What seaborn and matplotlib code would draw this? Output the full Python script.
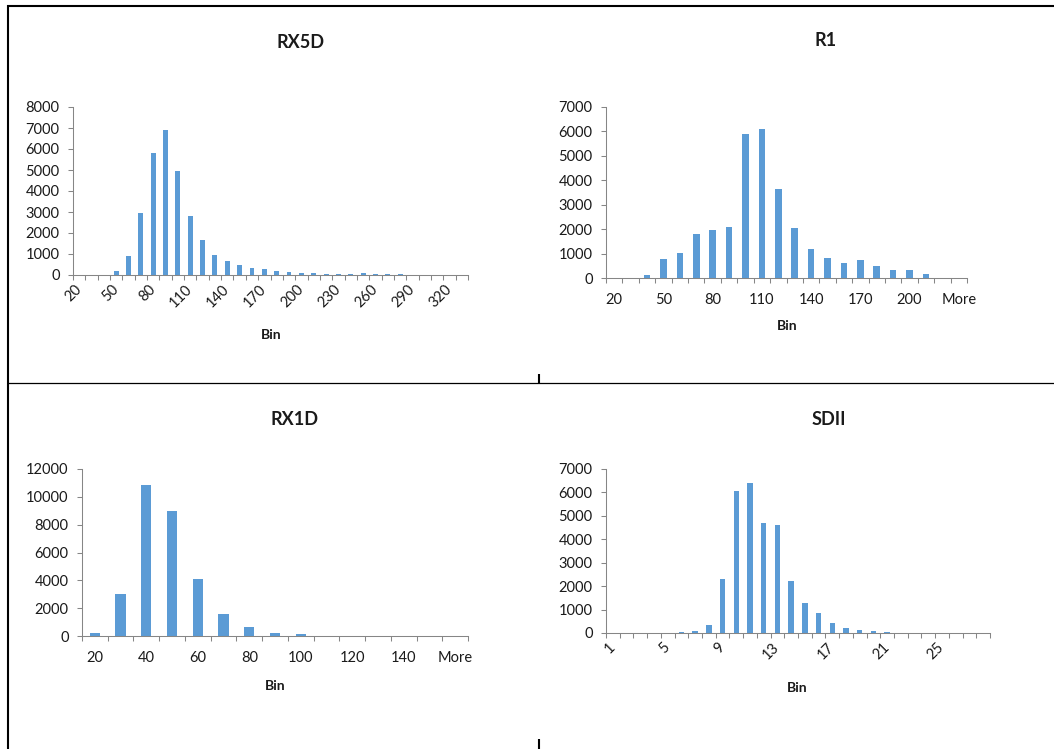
import numpy as np
import pandas as pd
import matplotlib
matplotlib.use("Agg")
import matplotlib.pyplot as plt
from matplotlib.lines import Line2D
import seaborn as sns

# ---- histogram counts per bin ----
rx5d_bins = [str(v) for v in range(20, 340, 10)]
rx5d_counts = [0, 0, 0, 170, 920, 2950, 5810, 6900, 4940, 2810, 1680, 950,
               680, 490, 330, 290, 190, 140, 100, 90, 60, 60, 60, 80, 60,
               30, 30, 0, 0, 0, 0, 0]

r1_bins = [str(v) for v in range(20, 230, 10)] + ["More"]
r1_counts = [0, 0, 110, 780, 1040, 1810, 1960, 2100, 5910, 6080, 3660, 2050,
             1200, 820, 600, 740, 500, 330, 340, 180, 0, 0]

rx1d_bins = [str(v) for v in range(20, 160, 10)] + ["More"]
rx1d_counts = [190, 2990, 10850, 8960, 4120, 1580, 650, 240, 140, 0, 0, 0,
               0, 0, 0]

sdii_bins = [str(v) for v in range(1, 29)]
sdii_counts = [0, 0, 0, 0, 0, 55, 85, 340, 2300, 6065, 6420, 4700, 4600, 2215,
               1265, 850, 440, 225, 140, 100, 40, 0, 0, 0, 0, 0, 0, 0]

W, H = 1054, 749
BAR = "#5B9BD5"
AXIS_GREY = "#868686"
TEXT = "#1a1a1a"
TICK_SIZE = 10.5

sns.set_style("white")
plt.rcParams["font.family"] = ["Lato", "DejaVu Sans"]

fig = plt.figure(figsize=(W / 100, H / 100), dpi=100)


def px_axes(left, right, top, bottom):
    return fig.add_axes([left / W, 1 - bottom / H, (right - left) / W, (bottom - top) / H])


def draw_hist(ax, bins, counts, ymax, ystep, label_every, rotate, title,
              title_xy, xlabel_xy, box):
    left, right, top, bottom = box
    df = pd.DataFrame({"Bin": bins, "Count": counts})
    sns.barplot(data=df, x="Bin", y="Count", order=bins, color=BAR,
                saturation=1, width=0.4, linewidth=0, ax=ax)
    n = len(bins)
    ax.set_xlim(-0.5, n - 0.5)
    ax.set_ylim(0, ymax)

    # category boundary tick marks
    ax.set_xticks(np.arange(n + 1) - 0.5)
    ax.set_xticklabels([])
    ax.tick_params(axis="x", which="major", direction="out", length=3.6,
                   width=0.75, color=AXIS_GREY, bottom=True)
    # labels centred on every k-th category
    pos = np.arange(0, n, label_every)
    ax.set_xticks(pos, minor=True)
    if rotate:
        ax.set_xticklabels([bins[i] for i in pos], minor=True, rotation=45,
                           ha="right", va="center", rotation_mode="anchor")
        ax.tick_params(axis="x", which="minor", length=0, pad=9,
                       labelsize=TICK_SIZE, labelcolor=TEXT)
    else:
        ax.set_xticklabels([bins[i] for i in pos], minor=True)
        ax.tick_params(axis="x", which="minor", length=0, pad=11,
                       labelsize=TICK_SIZE, labelcolor=TEXT)

    ax.set_yticks(np.arange(0, ymax + 1, ystep))
    ax.set_yticklabels([str(v) for v in range(0, ymax + 1, ystep)])
    ax.tick_params(axis="y", direction="out", length=3.6, width=0.75,
                   color=AXIS_GREY, left=True, pad=6, labelsize=TICK_SIZE,
                   labelcolor=TEXT)

    for s in ("top", "right"):
        ax.spines[s].set_visible(False)
    for s in ("left", "bottom"):
        ax.spines[s].set_color(AXIS_GREY)
        ax.spines[s].set_linewidth(0.75)

    ax.set_ylabel("")
    ax.set_xlabel("Bin", fontsize=10, fontweight="bold", color=TEXT)
    lx = (xlabel_xy[0] - left) / (right - left)
    ly = -(xlabel_xy[1] - bottom) / (bottom - top)
    ax.xaxis.set_label_coords(lx, ly)
    ax.xaxis.label.set_va("center")

    fig.text(title_xy[0] / W, 1 - title_xy[1] / H, title, fontsize=13,
             fontweight="bold", color=TEXT, ha="center", va="center")


boxes = {
    "RX5D": (73, 468, 107, 275),
    "R1": (606, 967, 107, 278),
    "RX1D": (82, 468, 469, 636),
    "SDII": (606, 990, 469, 633),
}

ax1 = px_axes(*boxes["RX5D"])
draw_hist(ax1, rx5d_bins, rx5d_counts, 8000, 1000, 3, True, "RX5D",
          (301, 43), (271, 335), boxes["RX5D"])

ax2 = px_axes(*boxes["R1"])
draw_hist(ax2, r1_bins, r1_counts, 7000, 1000, 3, False, "R1",
          (826, 41), (787, 326), boxes["R1"])

ax3 = px_axes(*boxes["RX1D"])
draw_hist(ax3, rx1d_bins, rx1d_counts, 12000, 2000, 2, False, "RX1D",
          (295, 419), (275, 686), boxes["RX1D"])

ax4 = px_axes(*boxes["SDII"])
draw_hist(ax4, sdii_bins, sdii_counts, 7000, 1000, 4, True, "SDII",
          (829, 419), (797, 688), boxes["SDII"])


# ---- page table borders ----
def hline(y, x0, x1, lw):
    fig.add_artist(Line2D([x0 / W, x1 / W], [1 - y / H, 1 - y / H],
                          transform=fig.transFigure, color="black", lw=lw,
                          solid_capstyle="butt"))


def vline(x, y0, y1, lw):
    fig.add_artist(Line2D([x / W, x / W], [1 - y0 / H, 1 - y1 / H],
                          transform=fig.transFigure, color="black", lw=lw,
                          solid_capstyle="butt"))


hline(5.5, 7, W, 1.5)
vline(8, 4.5, H, 1.5)
hline(383, 8, W, 0.9)
vline(538.5, 374, 383, 1.5)
vline(538.5, 739, H, 1.5)

fig.savefig("out.png", dpi=100, facecolor="white")
